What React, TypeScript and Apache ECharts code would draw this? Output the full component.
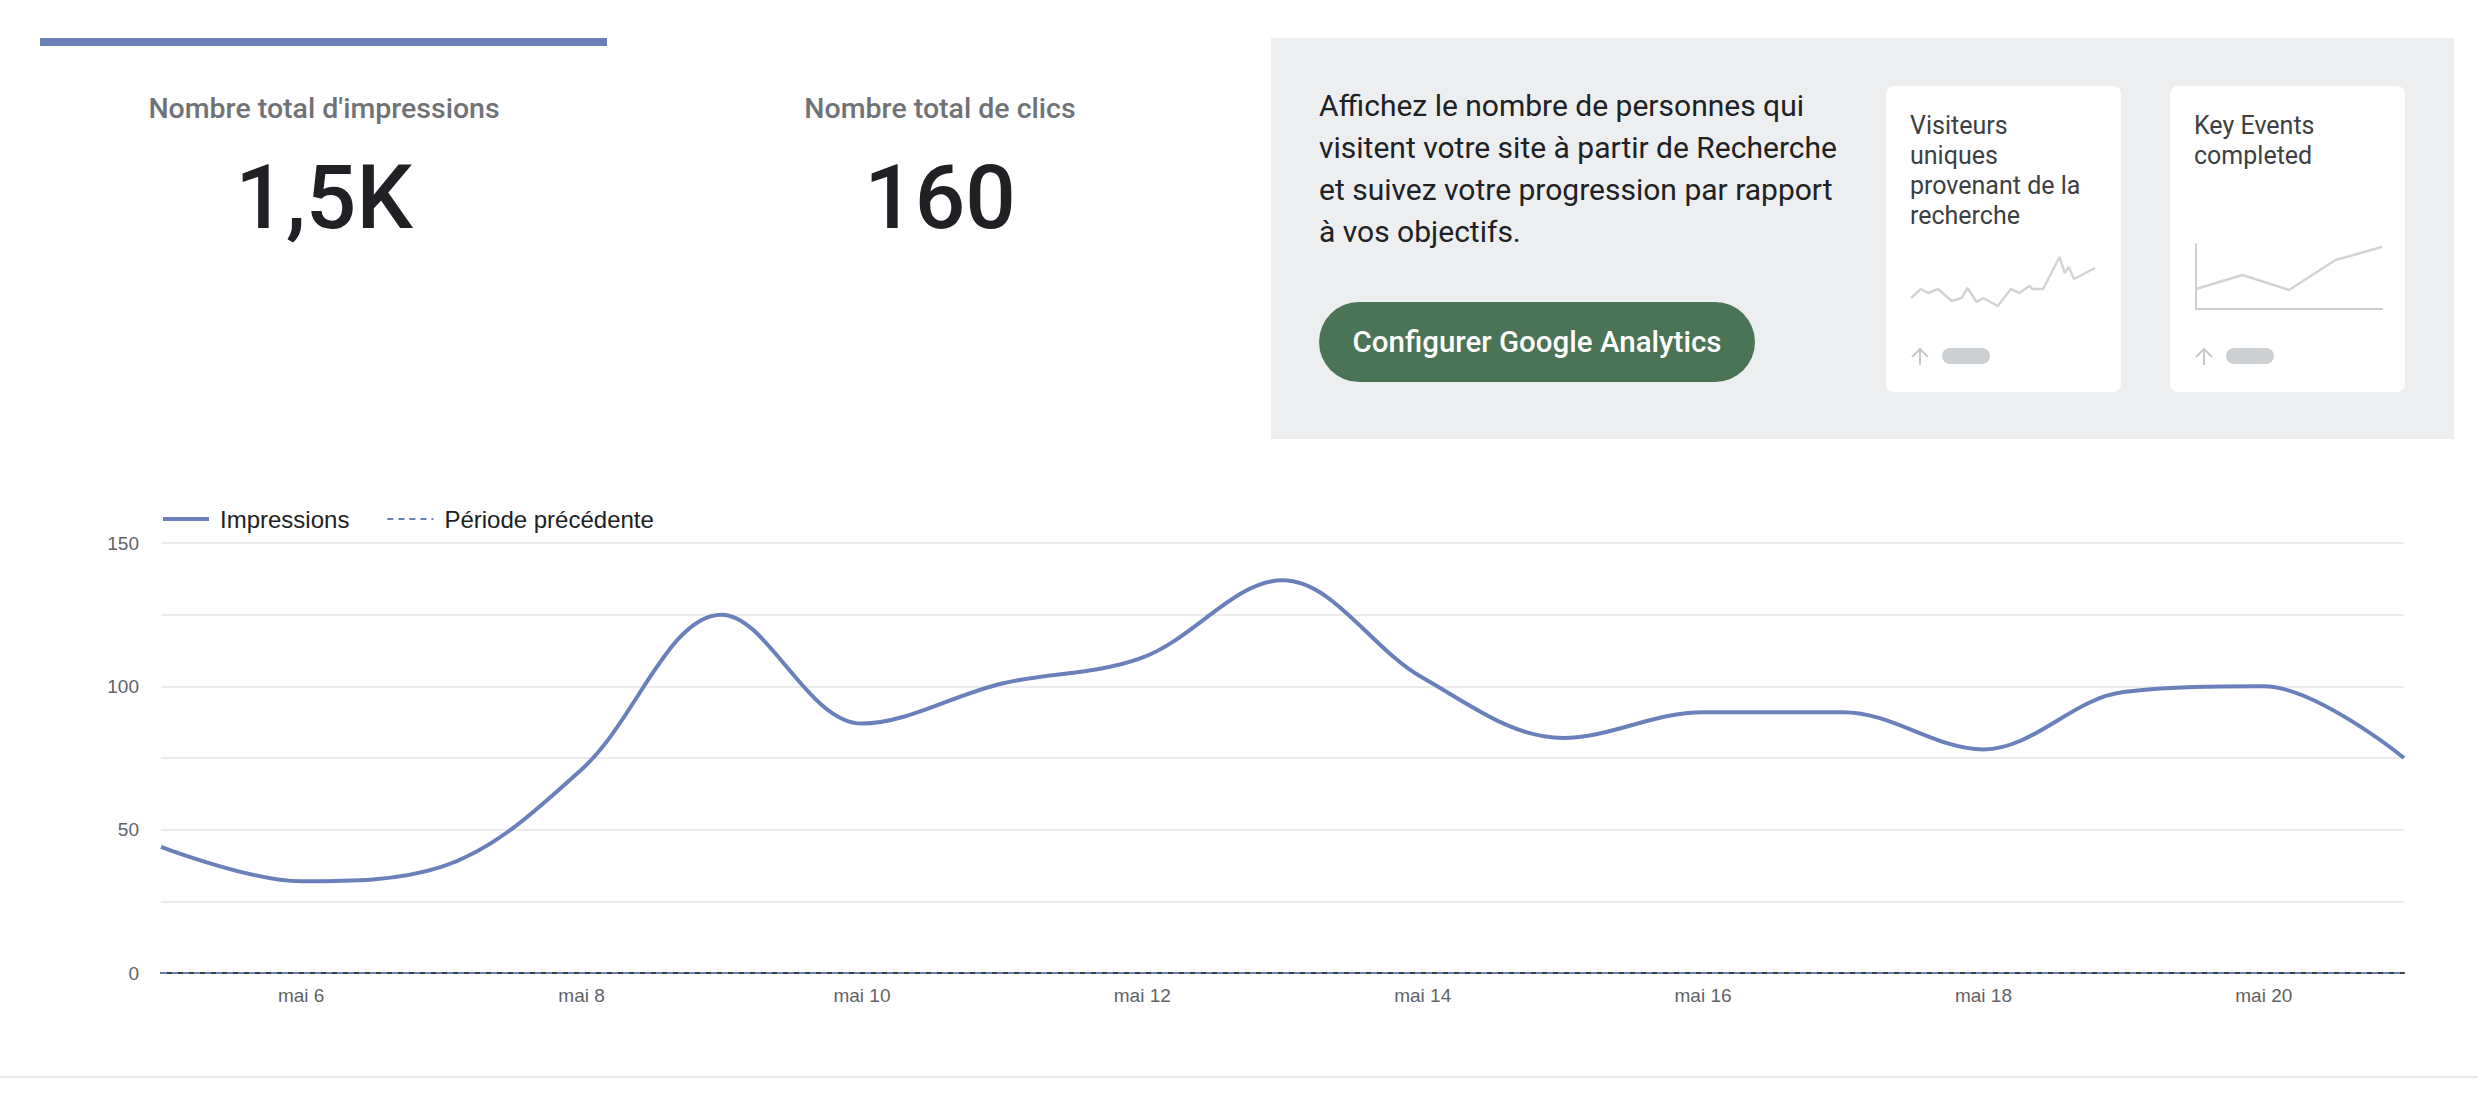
import React, { useEffect, useRef } from "react";
import * as echarts from "echarts";

// ---------- data ----------
const dates = [
  "mai 5", "mai 6", "mai 7", "mai 8", "mai 9", "mai 10", "mai 11", "mai 12", "mai 13",
  "mai 14", "mai 15", "mai 16", "mai 17", "mai 18", "mai 19", "mai 20", "mai 21",
];
const impressions = [44, 32, 37, 71, 125, 87, 101, 110, 137, 103, 82, 91, 91, 78, 98, 100, 75];
const previousPeriod = [0, 0, 0, 0, 0, 0, 0, 0, 0, 0, 0, 0, 0, 0, 0, 0, 0];
const seriesNames = ["Impressions", "Période précédente"];

const kpiTitles = ["Nombre total d'impressions", "Nombre total de clics"];
const kpiValues = ["1,5K", "160"];

const promoLines = [
  "Affichez le nombre de personnes qui",
  "visitent votre site à partir de Recherche",
  "et suivez votre progression par rapport",
  "à vos objectifs.",
];
const buttonLabel = "Configurer Google Analytics";
const cardTitles = [
  ["Visiteurs", "uniques", "provenant de la", "recherche"],
  ["Key Events", "completed"],
];

// decorative sparklines (abstract units)
const visitorsSparkX = [0, 1.5, 2.6, 4.1, 6.2, 7.7, 8.6, 10, 11, 13.2, 15.2, 16.5, 18, 18.5, 20.1, 22.6, 23.4, 24, 24.8, 28];
const visitorsSparkY = [12, 21, 17, 21, 9, 12, 22, 8, 12, 4, 21, 17, 24, 21, 21, 53, 37, 43, 31, 42];
const keyEventsSpark = [20, 34, 19, 49, 62];

// ---------- styles ----------
const BLUE = "#6a80ba";
const SANS = "Roboto";
const CHART_FONT = "Liberation Sans";

export default function App() {
  const ref = useRef<HTMLDivElement>(null);

  useEffect(() => {
    if (!ref.current) return;
    const chart = echarts.init(ref.current, undefined, { renderer: "svg" });

    const graphics: any[] = [];
    graphics.push({ type: "rect", shape: { x: 40, y: 38, width: 567, height: 8 }, style: { fill: BLUE } });
    const kpiCenters = [324, 940];
    kpiTitles.forEach((t, i) => {
      graphics.push({
        type: "text", x: kpiCenters[i], y: 108,
        style: { text: t, fontFamily: SANS, fontWeight: 500, fontSize: 28.5, fill: "#6f7377", textAlign: "center", textVerticalAlign: "middle" },
      });
      graphics.push({
        type: "text", x: kpiCenters[i], y: 197,
        style: { text: kpiValues[i], fontFamily: SANS, fontWeight: 500, fontSize: 89, fill: "#202124", textAlign: "center", textVerticalAlign: "middle" },
      });
    });
    graphics.push({ type: "rect", shape: { x: 1271, y: 38, width: 1183, height: 401 }, style: { fill: "#eceef0" } });
    const promoY = [105, 147.5, 189, 231.5];
    promoLines.forEach((t, i) => {
      graphics.push({
        type: "text", x: 1319, y: promoY[i],
        style: { text: t, fontFamily: SANS, fontSize: 30, fill: "#202124", textAlign: "left", textVerticalAlign: "middle" },
      });
    });
    graphics.push({ type: "rect", shape: { x: 1319, y: 302, width: 436, height: 80, r: 40 }, style: { fill: "#4a7455" } });
    graphics.push({
      type: "text", x: 1537, y: 342,
      style: { text: buttonLabel, fontFamily: SANS, fontWeight: 500, fontSize: 29.5, fill: "#ffffff", textAlign: "center", textVerticalAlign: "middle" },
    });
    const cardX = [1886, 2170];
    cardX.forEach((cx, ci) => {
      graphics.push({ type: "rect", shape: { x: cx, y: 86, width: 235, height: 306, r: 8 }, style: { fill: "#ffffff" } });
      cardTitles[ci].forEach((t, li) => {
        graphics.push({
          type: "text", x: cx + 24, y: 125 + li * 30,
          style: { text: t, fontFamily: SANS, fontSize: 25, fill: "#3c4043", textAlign: "left", textVerticalAlign: "middle" },
        });
      });
      const ax = cx + 34;
      graphics.push({ type: "line", shape: { x1: ax, y1: 349, x2: ax, y2: 365 }, style: { stroke: "#c6c9cc", lineWidth: 2 } });
      graphics.push({ type: "polyline", shape: { points: [[ax - 8, 357], [ax, 349], [ax + 8, 357]] }, style: { stroke: "#c6c9cc", lineWidth: 2, fill: null } });
      graphics.push({ type: "rect", shape: { x: cx + 56, y: 348, width: 48, height: 16, r: 8 }, style: { fill: "#cdd0d3" } });
    });
    graphics.push({ type: "rect", shape: { x: 0, y: 1076, width: 2478, height: 2 }, style: { fill: "#e8eaed" } });

    chart.setOption({
      animation: false,
      backgroundColor: "#ffffff",
      graphic: { elements: graphics },
      legend: {
        data: [
          { name: seriesNames[0], lineStyle: { color: BLUE, width: 4 } },
          { name: seriesNames[1], lineStyle: { color: BLUE, width: 2, type: [6, 5] } },
        ],
        left: 161,
        top: 507,
        padding: 0,
        itemWidth: 46,
        itemHeight: 20,
        itemGap: 37,
        itemStyle: { opacity: 0, borderWidth: 0 },
        textStyle: { fontFamily: CHART_FONT, fontSize: 24, color: "#202124", padding: [0, 0, 0, 6] },
      },
      grid: [
        { left: 161, right: 74, top: 543, bottom: 123, containLabel: false },
        { left: 1911, top: 250, width: 184, height: 60 },
        { left: 2196, top: 244, width: 186, height: 65 },
      ],
      xAxis: [
        {
          type: "category", gridIndex: 0, data: dates, boundaryGap: false,
          axisLine: { show: true, lineStyle: { color: "#3c4043", width: 2 } },
          axisTick: { show: false },
          axisLabel: {
            interval: (i: number) => i % 2 === 1,
            color: "#5f6368", fontFamily: CHART_FONT, fontSize: 19, margin: 13,
          },
          splitLine: { show: false },
        },
        { type: "value", gridIndex: 1, min: 0, max: 28, show: false },
        {
          type: "category", gridIndex: 2, data: keyEventsSpark.map((_, i) => String(i)), boundaryGap: false,
          axisLine: { show: true, lineStyle: { color: "#cfcfcf", width: 2 } },
          axisTick: { show: false }, axisLabel: { show: false }, splitLine: { show: false },
        },
      ],
      yAxis: [
        {
          type: "value", gridIndex: 0, min: 0, max: 150, interval: 25,
          axisLine: { show: false }, axisTick: { show: false },
          axisLabel: {
            formatter: (v: number) => (v % 50 === 0 ? String(v) : ""),
            color: "#5f6368", fontFamily: CHART_FONT, fontSize: 19, margin: 22,
          },
          splitLine: { lineStyle: { color: "#ebebeb", width: 2 } },
        },
        { type: "value", gridIndex: 1, min: 0, max: 60, show: false },
        {
          type: "value", gridIndex: 2, min: 0, max: 65,
          axisLine: { show: true, lineStyle: { color: "#cfcfcf", width: 2 } },
          axisTick: { show: false }, axisLabel: { show: false }, splitLine: { show: false },
        },
      ],
      series: [
        {
          name: seriesNames[1], type: "line", xAxisIndex: 0, yAxisIndex: 0,
          data: previousPeriod, symbol: "none", z: 3,
          lineStyle: { color: BLUE, width: 2, type: [6, 5] }, itemStyle: { color: BLUE },
        },
        {
          name: seriesNames[0], type: "line", xAxisIndex: 0, yAxisIndex: 0,
          data: impressions, smooth: 0.35, symbol: "none", z: 4,
          lineStyle: { color: BLUE, width: 4 }, itemStyle: { color: BLUE },
        },
        {
          type: "line", xAxisIndex: 1, yAxisIndex: 1, silent: true,
          data: visitorsSparkX.map((x, i) => [x, visitorsSparkY[i]]), symbol: "none",
          lineStyle: { color: "#d3d3d3", width: 2.5 },
        },
        {
          type: "line", xAxisIndex: 2, yAxisIndex: 2, silent: true,
          data: keyEventsSpark, symbol: "none",
          lineStyle: { color: "#d3d3d3", width: 2.5 },
        },
      ],
    });

    return () => chart.dispose();
  }, []);

  return (
    <div
      ref={ref}
      style={{ position: "absolute", left: 0, top: 0, width: 2478, height: 1096 }}
    />
  );
}
